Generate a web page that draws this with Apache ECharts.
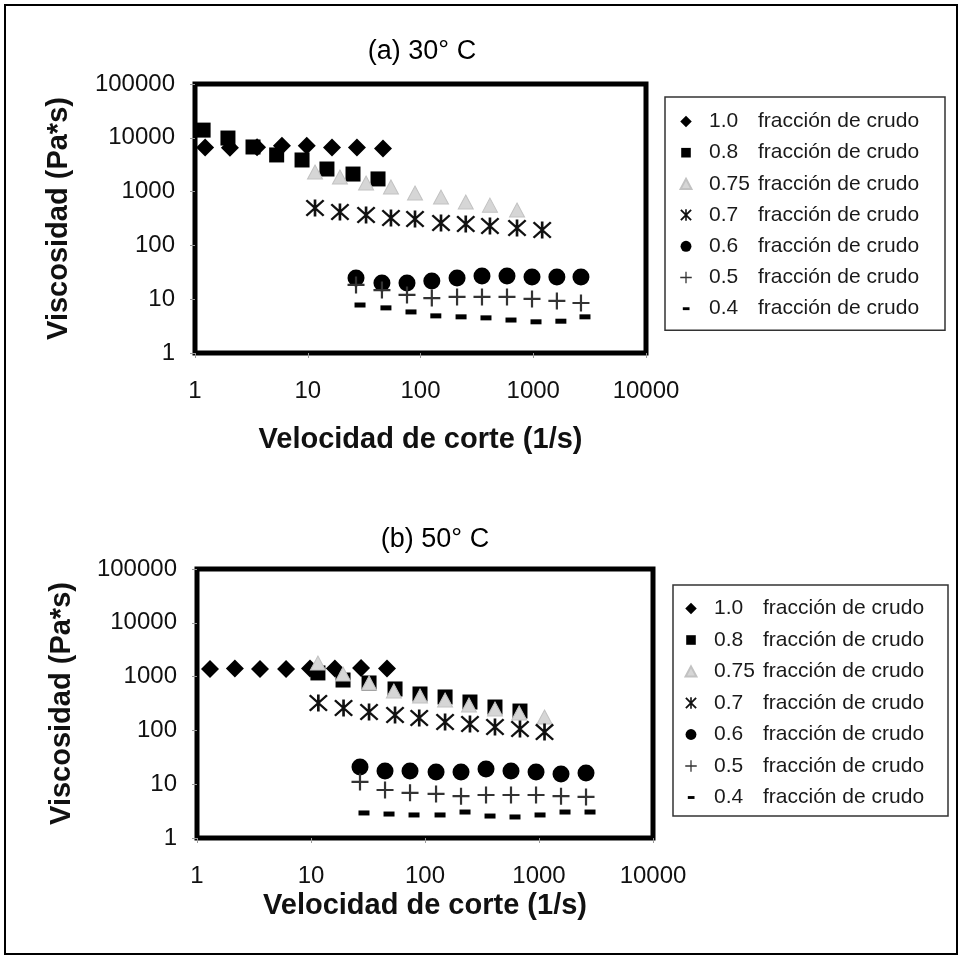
<!DOCTYPE html>
<html><head><meta charset="utf-8">
<script src="https://cdn.jsdelivr.net/npm/echarts@6/dist/echarts.min.js"></script>
<style>html,body{margin:0;padding:0;background:#fff}#c{width:963px;height:960px}</style>
</head><body><div id="c"></div>
<script>
// ---------- data ----------
const seriesLabels = ['1.0 fracción de crudo','0.8 fracción de crudo','0.75 fracción de crudo','0.7 fracción de crudo','0.6 fracción de crudo','0.5 fracción de crudo','0.4 fracción de crudo'];
const panelTitles = ['(a) 30° C', '(b) 50° C'];
const xAxisTitle = 'Velocidad de corte (1/s)';
const yAxisTitle = 'Viscosidad (Pa*s)';

// (a) 30 °C : shear rate (1/s) and viscosity (Pa*s)
const a30_rate_10  = [1.23, 2.04, 3.55, 5.9, 9.8, 16.4, 27.3, 46.5];
const a30_visc_10  = [6600, 6500, 6700, 7100, 7100, 6600, 6600, 6300];
const a30_rate_08  = [1.18, 1.96, 3.27, 5.3, 8.9, 14.8, 25.2, 42];
const a30_visc_08  = [13900, 9900, 6750, 4800, 3870, 2630, 2120, 1720];
const a30_rate_075 = [11.6, 19.3, 32.9, 54.7, 89.4, 152, 252, 413, 718];
const a30_visc_075 = [2310, 1870, 1440, 1220, 940, 790, 640, 560, 455];
const a30_rate_07  = [11.6, 19.3, 32.9, 54.7, 89.4, 152, 252, 413, 718, 1200];
const a30_visc_07  = [496, 418, 367, 323, 309, 261, 250, 229, 211, 193];
const a30_rate_06  = [26.8, 45.5, 75.9, 126, 211, 351, 585, 975, 1620, 2650];
const a30_visc_06  = [24.8, 20, 20, 21.8, 24.8, 27, 27, 25.9, 25.9, 25.9];
const a30_visc_05  = [18.4, 14.8, 12, 10.5, 11, 11, 11, 10.1, 9.3, 8.5];
const a30_visc_04  = [7.8, 6.9, 5.8, 4.9, 4.7, 4.5, 4.1, 3.8, 3.9, 4.7];

// (b) 50 °C
const b50_rate_10  = [1.3, 2.15, 3.57, 6.04, 9.8, 16.2, 27.5, 46.4];
const b50_visc_10  = [1380, 1420, 1380, 1380, 1420, 1420, 1450, 1420];
const b50_rate_08  = [11.5, 19.1, 32.3, 54.6, 90.4, 150, 248, 411, 681];
const b50_visc_08  = [1170, 864, 761, 589, 475, 418, 337, 272, 229];
const b50_rate_075 = [11.5, 19.1, 32.3, 53.3, 90.4, 150, 243, 411, 670, 1118];
const b50_visc_075 = [1790, 1117, 761, 540, 436, 367, 297, 250, 211, 177];
const b50_rate_07  = [11.6, 19.3, 32.3, 54.6, 89, 150, 248, 411, 681, 1118];
const b50_visc_07  = [323, 261, 220, 193, 170, 143, 131, 116, 106, 93];
const b50_rate_06  = [26.9, 44.6, 73.9, 125, 207, 343, 568, 942, 1560, 2585];
const b50_visc_06  = [20.9, 17.6, 17.6, 16.9, 16.9, 19.2, 17.6, 16.9, 15.5, 16.2];
const b50_visc_05  = [11, 7.8, 6.9, 6.6, 6.0, 6.3, 6.3, 6.3, 6.0, 5.8];
const b50_visc_04  = [2.92, 2.79, 2.68, 2.68, 3.04, 2.56, 2.46, 2.68, 3.04, 3.04];

// ---------- styling ----------
const FONT = '"Liberation Sans", Arial, Helvetica, sans-serif';
const STY = [
  {symbol:'diamond', size:18, color:'#000'},
  {symbol:'rect', size:15, color:'#000'},
  {symbol:'triangle', size:[15,14], color:'#d6d6d6', border:'#c2c2c2'},
  {symbol:'path://M43,0L57,0L57,100L43,100Z M0,9L9,0L100,91L91,100Z M91,0L100,9L9,100L0,91Z', size:[19,17], color:'#111'},
  {symbol:'circle', size:17, color:'#000'},
  {symbol:'path://M43.5,0L56.5,0L56.5,43.5L100,43.5L100,56.5L56.5,56.5L56.5,100L43.5,100L43.5,56.5L0,56.5L0,43.5L43.5,43.5Z', size:17, color:'#333'},
  {symbol:'rect', size:[11,5], color:'#000', offset:[4,0]}
];
const LEG_ICONS = [
  'path://M0,0M100,100M50,14L86,50L50,86L14,50Z',
  'path://M0,0M100,100M20,20L80,20L80,80L20,80Z',
  'path://M0,0M100,100M50,18L84,82L16,82Z',
  'path://M0,0M100,100M45,14L55,14L55,86L45,86Z M14,22L22,14L86,78L78,86Z M78,14L86,22L22,86L14,78Z',
  'path://M0,0M100,100M16,50A34,34 0 1 1 84,50A34,34 0 1 1 16,50Z',
  'path://M0,0M100,100M46,14L54,14L54,46L86,46L86,54L54,54L54,86L46,86L46,54L14,54L14,46L46,46Z',
  'path://M0,0M100,100M30,41L72,41L72,59L30,59Z'
];

const panels = [
  {rates:[a30_rate_10,a30_rate_08,a30_rate_075,a30_rate_07,a30_rate_06,a30_rate_06,a30_rate_06],
   visc:[a30_visc_10,a30_visc_08,a30_visc_075,a30_visc_07,a30_visc_06,a30_visc_05,a30_visc_04]},
  {rates:[b50_rate_10,b50_rate_08,b50_rate_075,b50_rate_07,b50_rate_06,b50_rate_06,b50_rate_06],
   visc:[b50_visc_10,b50_visc_08,b50_visc_075,b50_visc_07,b50_visc_06,b50_visc_05,b50_visc_04]}
];

const series = [];
panels.forEach((p, pi) => {
  seriesLabels.forEach((name, si) => {
    const st = STY[si];
    series.push({
      type:'scatter', name, xAxisIndex:pi, yAxisIndex:pi,
      symbol: st.symbol, symbolSize: st.size, symbolOffset: st.offset || [0,0],
      itemStyle: {color: st.color, borderColor: st.border || st.color, borderWidth: st.border ? 1 : 0, opacity:1},
      emphasis:{disabled:true}, clip:false,
      data: p.rates[si].map((x, i) => [x, p.visc[si][i]])
    });
  });
});

const grids = [
  {left:195, top:84, width:451, height:269},
  {left:197, top:569, width:456, height:269}
].map(g => Object.assign(g, {show:true, borderColor:'#000', borderWidth:5, backgroundColor:'rgba(0,0,0,0)'}));

const xNameGap = [72, 53];
const yNameGap = [122, 121];
const xAxes = [0,1].map(i => ({
  type:'log', logBase:10, min:1, max:10000, gridIndex:i,
  name:xAxisTitle, nameLocation:'middle', nameGap:xNameGap[i],
  nameTextStyle:{fontSize:29, fontWeight:'bold', color:'#111', fontFamily:FONT},
  axisLine:{show:false}, axisTick:{show:true, length:5, lineStyle:{color:'#999'}},
  axisLabel:{fontSize:24, color:'#111', margin:26, fontFamily:FONT, formatter:v => String(Math.round(v))},
  splitLine:{show:false}
}));
const yAxes = [0,1].map(i => ({
  type:'log', logBase:10, min:1, max:100000, gridIndex:i,
  name:yAxisTitle, nameLocation:'middle', nameGap:yNameGap[i],
  nameTextStyle:{fontSize:29, fontWeight:'bold', color:'#111', fontFamily:FONT},
  axisLine:{show:false}, axisTick:{show:true, length:5, lineStyle:{color:'#999'}},
  axisLabel:{fontSize:24, color:'#111', margin:20, fontFamily:FONT, formatter:v => String(Math.round(v))},
  splitLine:{show:false}
}));

const legendBase = {
  orient:'vertical', align:'left', selectedMode:false,
  itemWidth:36, itemHeight:16, borderColor:'#333', borderWidth:1.5, backgroundColor:'#fff',
  data: seriesLabels.map((n, i) => ({name:n, icon:LEG_ICONS[i]})),
  formatter: name => { const k = name.indexOf(' '); return '{n|' + name.slice(0,k) + '}{t|' + name.slice(k+1) + '}'; },
  textStyle:{fontSize:21, color:'#1a1a1a', fontFamily:FONT, rich:{
    n:{width:49, fontSize:21, color:'#1a1a1a', fontFamily:FONT, lineHeight:20},
    t:{width:180, fontSize:21, color:'#1a1a1a', fontFamily:FONT, lineHeight:20}
  }}
};
const legends = [
  Object.assign({}, legendBase, {left:665, top:97, itemGap:10.2, padding:[14,7,11,12]}),
  Object.assign({}, legendBase, {left:673, top:585, itemGap:10.5, padding:[13,5,8,9]})
];

const chart = echarts.init(document.getElementById('c'), null, {renderer:'canvas'});
chart.setOption({
  backgroundColor:'#fff',
  animation:false,
  title:[
    {text:panelTitles[0], left:417, top:33, textAlign:'center', textStyle:{fontSize:27, fontWeight:'normal', color:'#000', fontFamily:FONT}},
    {text:panelTitles[1], left:430, top:521, textAlign:'center', textStyle:{fontSize:27, fontWeight:'normal', color:'#000', fontFamily:FONT}}
  ],
  graphic:[{type:'rect', shape:{x:5, y:5, width:952, height:949}, style:{fill:'none', stroke:'#000', lineWidth:2}, silent:true, z:-1}],
  legend: legends,
  grid: grids,
  xAxis: xAxes,
  yAxis: yAxes,
  series
});
</script></body></html>
